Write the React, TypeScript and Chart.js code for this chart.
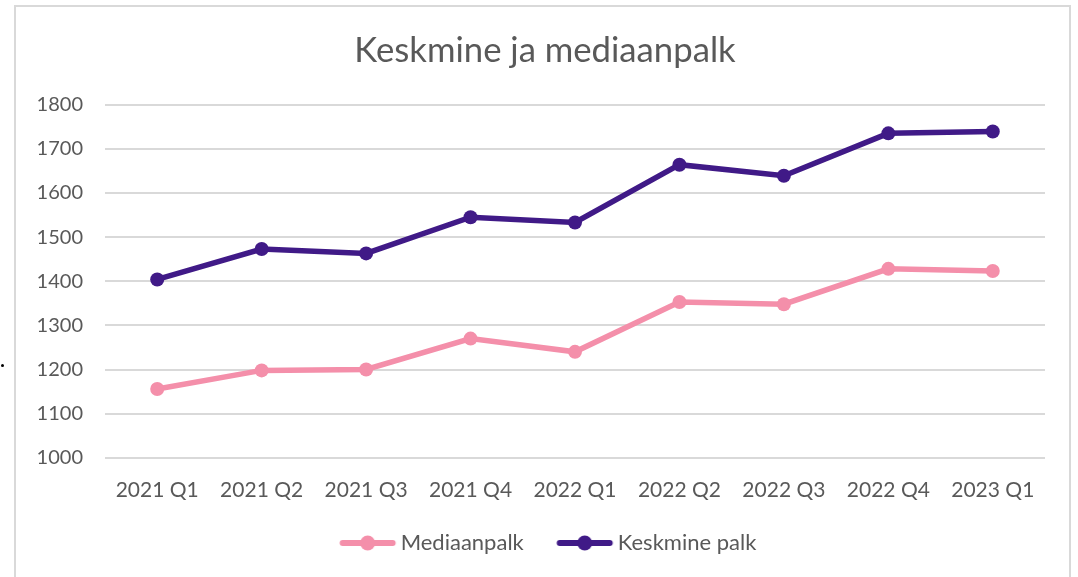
import React, { useEffect, useRef } from "react";
import { Chart, registerables } from "chart.js";

Chart.register(...registerables);

const categories = ["2021 Q1", "2021 Q2", "2021 Q3", "2021 Q4", "2022 Q1", "2022 Q2", "2022 Q3", "2022 Q4", "2023 Q1"];
const medianValues = [1156, 1198, 1200, 1270, 1240, 1353, 1348, 1428, 1423];
const meanValues = [1404, 1473, 1463, 1545, 1533, 1664, 1639, 1735, 1739];
const seriesNames = ["Mediaanpalk", "Keskmine palk"];
const titleText = "Keskmine ja mediaanpalk";

const PINK = "#F48FAA";
const PURPLE = "#401A87";
const FONT = "Lato, 'Open Sans', sans-serif";

function legendIcon(color: string): HTMLCanvasElement {
  const c = document.createElement("canvas");
  c.width = 88;
  c.height = 18;
  const ctx = c.getContext("2d")!;
  ctx.strokeStyle = color;
  ctx.lineWidth = 6;
  ctx.lineCap = "round";
  ctx.beginPath();
  ctx.moveTo(33.5, 9);
  ctx.lineTo(83.5, 9);
  ctx.stroke();
  ctx.fillStyle = color;
  ctx.beginPath();
  ctx.arc(58.5, 9, 7.5, 0, Math.PI * 2);
  ctx.fill();
  return c;
}

const shiftPlugin = {
  id: "shiftBlocks",
  afterLayout(chart: any) {
    const t = chart.titleBlock;
    if (t) {
      t.left += 14.5;
      t.right += 14.5;
    }
    const l = chart.legend;
    if (l) {
      l.left += 6;
      l.right += 6;
    }
  },
};

export default function App() {
  const ref = useRef<HTMLCanvasElement | null>(null);

  useEffect(() => {
    if (!ref.current) return;
    const icons = [legendIcon(PINK), legendIcon(PURPLE)];
    const chart = new Chart(ref.current, {
      type: "line",
      data: {
        labels: categories,
        datasets: [
          {
            label: seriesNames[0],
            data: medianValues,
            borderColor: PINK,
            backgroundColor: PINK,
            borderWidth: 5.5,
            pointRadius: 7,
            pointHoverRadius: 7,
            pointBorderWidth: 0,
            pointStyle: "circle",
            tension: 0,
          },
          {
            label: seriesNames[1],
            data: meanValues,
            borderColor: PURPLE,
            backgroundColor: PURPLE,
            borderWidth: 5.5,
            pointRadius: 7,
            pointHoverRadius: 7,
            pointBorderWidth: 0,
            pointStyle: "circle",
            tension: 0,
          },
        ],
      },
      plugins: [shiftPlugin],
      options: {
        animation: false,
        responsive: false,
        maintainAspectRatio: false,
        layout: { padding: { left: 0, right: 24, top: 0, bottom: 13 } },
        plugins: {
          title: {
            display: true,
            text: titleText,
            color: "#595959",
            font: { family: FONT, size: 34.7, weight: "normal" as any },
            padding: { top: 23, bottom: 33 },
          },
          legend: {
            position: "bottom",
            labels: {
              color: "#595959",
              font: { family: FONT, size: 22 },
              usePointStyle: true,
              pointStyleWidth: 73,
              padding: 10,
              generateLabels: (ch: any) =>
                ch.data.datasets.map((ds: any, i: number) => ({
                  text: ds.label,
                  fillStyle: ds.borderColor,
                  strokeStyle: ds.borderColor,
                  fontColor: "#595959",
                  lineWidth: 0,
                  pointStyle: icons[i],
                  hidden: false,
                  datasetIndex: i,
                })),
            },
          },
          tooltip: { enabled: false },
        },
        scales: {
          x: {
            offset: true,
            afterFit: (s: any) => {
              s.height -= 1;
            },
            grid: { display: false, drawTicks: false },
            border: { display: false },
            ticks: {
              color: "#595959",
              font: { family: FONT, size: 21 },
              padding: 20,
              maxRotation: 0,
              autoSkip: false,
            },
          },
          y: {
            min: 1000,
            max: 1800,
            afterFit: (s: any) => {
              s.width = 89;
            },
            grid: { color: "#d9d9d9", lineWidth: 2, drawTicks: false },
            border: { display: false },
            ticks: {
              stepSize: 100,
              color: "#595959",
              font: { family: FONT, size: 20 },
              padding: 22,
              callback: (v: any) => String(v),
            },
          },
        },
      },
    });
    return () => chart.destroy();
  }, []);

  return (
    <div style={{ position: "absolute", left: 0, top: 0, width: 1078, height: 577, background: "#fff", overflow: "hidden" }}>
      <div style={{ position: "absolute", left: 1, top: 364, width: 3, height: 3, borderRadius: 2, background: "#000" }} />
      <div
        style={{
          position: "absolute",
          left: 14,
          top: 5,
          width: 1053,
          height: 572,
          borderTop: "2px solid #d9d9d9",
          borderLeft: "2px solid #d9d9d9",
          borderRight: "2px solid #d9d9d9",
          background: "#fff",
        }}
      >
        <canvas ref={ref} width={1053} height={570} style={{ display: "block" }} />
      </div>
    </div>
  );
}
